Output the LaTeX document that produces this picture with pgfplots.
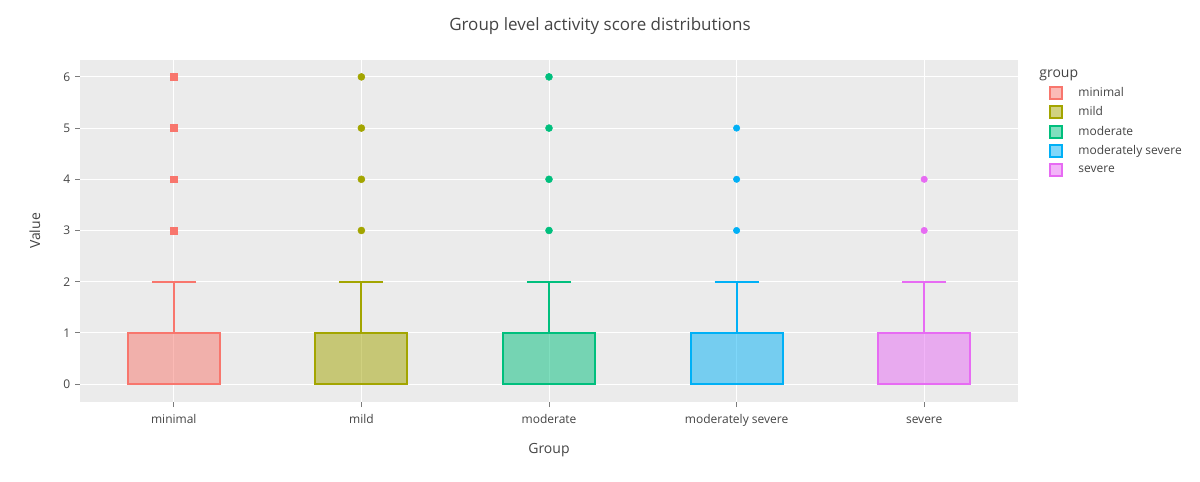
\documentclass[border=0pt]{standalone}
\usepackage{fontspec}
\setmainfont{Open Sans}
\usepackage{pgfplots}
\pgfplotsset{compat=1.18}
\usepgfplotslibrary{statistics}

\definecolor{bgc}{HTML}{EBEBEB}
\definecolor{txt}{HTML}{444444}
\definecolor{cA}{HTML}{F8766D}
\definecolor{cB}{HTML}{A3A500}
\definecolor{cC}{HTML}{00BF7D}
\definecolor{cD}{HTML}{00B0F6}
\definecolor{cE}{HTML}{E76BF3}

% 1 px of the reference = 0.75bp
\pgfplotsset{
  bx/.style={boxplot prepared={lower whisker=0, lower quartile=0, median=0,
      upper quartile=1, upper whisker=2, draw position=#1,
      box extend=0.49, whisker extend=0.235},
    boxplot/draw direction=y,
    line width=1.5bp, fill opacity=0.5, draw opacity=1, forget plot},
  legsq/.style={legend image code/.code={
      \draw[##1, line width=1.5bp] (1bp,-4.5bp) rectangle (10bp,4.5bp);}},
}

\begin{document}
\begin{tikzpicture}
\path[use as bounding box] (0,0) rectangle (900bp,361.5bp);
\node[text=txt, font=\fontsize{12.75bp}{15bp}\selectfont] at (450bp,342bp) {Group level activity score distributions};
\begin{axis}[
  at={(60bp,60bp)}, anchor=south west,
  scale only axis, width=703.5bp, height=256.5bp,
  xmin=-0.5, xmax=4.5, ymin=-0.35, ymax=6.33,
  axis background/.style={fill=bgc},
  axis line style={draw=none},
  grid=major, major grid style={white, line width=0.75bp},
  xtick={0,1,2,3,4},
  xticklabels={minimal,mild,moderate,moderately severe,severe},
  ytick={0,1,2,3,4,5,6},
  xtick pos=bottom, ytick pos=left,
  tick align=outside, major tick length=3.75bp,
  tick style={draw=txt!70, line width=0.6bp},
  every tick label/.append style={text=txt, font=\fontsize{9bp}{11bp}\selectfont},
  xticklabel style={text height=1.5ex, text depth=0.35ex, yshift=-1bp},
  /pgf/number format/assume math mode=true,
  xlabel={Group}, ylabel={Value},
  label style={text=txt, font=\fontsize{10.5bp}{12bp}\selectfont},
  xlabel style={yshift=-6bp},
  ylabel style={yshift=10.5bp},
  legend style={at={(1.0325,0.976)}, anchor=north west, draw=none, fill=none,
    font=\fontsize{9bp}{11bp}\selectfont, text=txt,
    row sep=3.95bp, inner xsep=0bp, inner ysep=0bp,
    nodes={inner sep=1bp}},
  legend cell align=left,
]
\addplot[bx=0, draw=cA, fill=cA] coordinates {};
\addplot[bx=1, draw=cB, fill=cB] coordinates {};
\addplot[bx=2, draw=cC, fill=cC] coordinates {};
\addplot[bx=3, draw=cD, fill=cD] coordinates {};
\addplot[bx=4, draw=cE, fill=cE] coordinates {};

\addplot[only marks, mark=square*, mark size=2.6bp, color=cA, forget plot] coordinates {(0,3) (0,4) (0,5) (0,6)};
\addplot[only marks, mark=*, mark size=2.6bp, color=cB, forget plot] coordinates {(1,3) (1,4) (1,5) (1,6)};
\addplot[only marks, mark=*, mark size=2.6bp, color=cC, forget plot] coordinates {(2,3) (2,4) (2,5) (2,6)};
\addplot[only marks, mark=*, mark size=2.4bp, color=cD, forget plot] coordinates {(3,3) (3,4) (3,5)};
\addplot[only marks, mark=*, mark size=2.4bp, color=cE, forget plot] coordinates {(4,3) (4,4)};

\addlegendimage{empty legend}
\addlegendentry{\hspace{-18.75bp}\fontsize{10.5bp}{12bp}\selectfont group}
\addlegendimage{legsq, draw=cA, fill=cA!50!white}
\addlegendentry{\hspace{10.5bp}minimal}
\addlegendimage{legsq, draw=cB, fill=cB!50!white}
\addlegendentry{\hspace{10.5bp}mild}
\addlegendimage{legsq, draw=cC, fill=cC!50!white}
\addlegendentry{\hspace{10.5bp}moderate}
\addlegendimage{legsq, draw=cD, fill=cD!50!white}
\addlegendentry{\hspace{10.5bp}moderately severe}
\addlegendimage{legsq, draw=cE, fill=cE!50!white}
\addlegendentry{\hspace{10.5bp}severe}
\end{axis}
\end{tikzpicture}
\end{document}
